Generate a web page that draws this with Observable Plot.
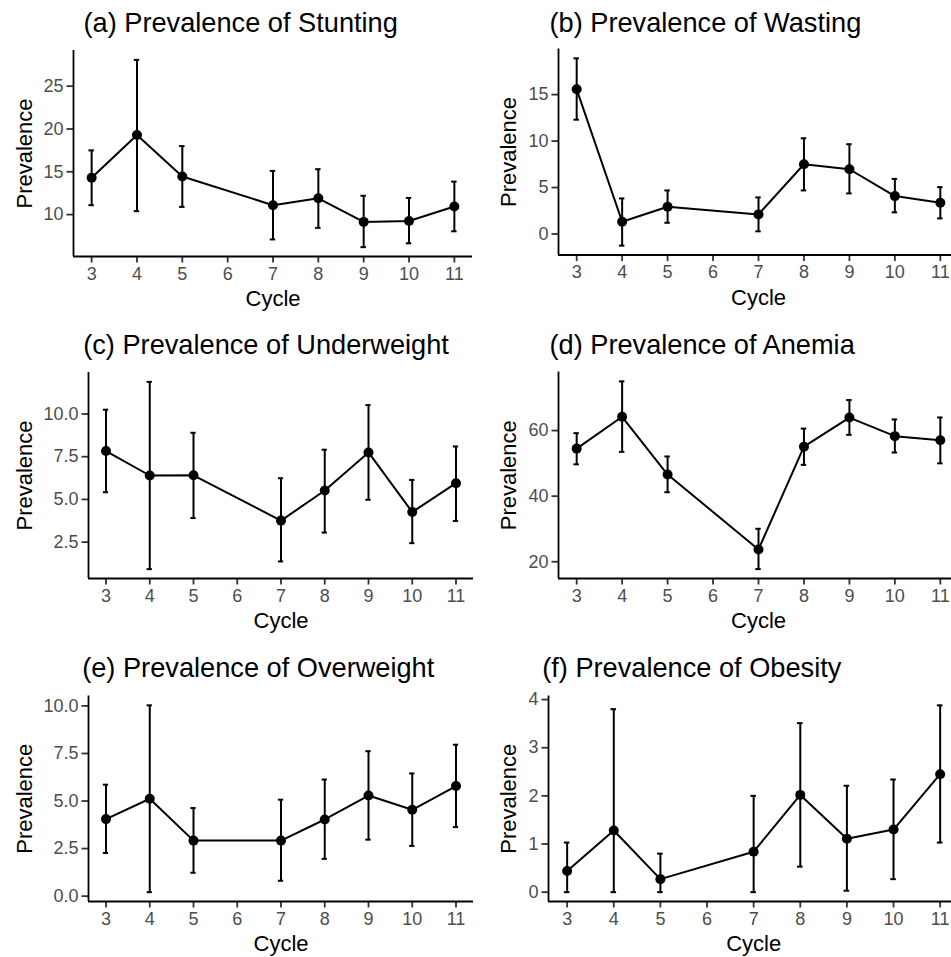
<!DOCTYPE html>
<html><head><meta charset="utf-8">
<script src="https://cdn.jsdelivr.net/npm/d3@7"></script>
<script src="https://cdn.jsdelivr.net/npm/@observablehq/plot@0.6"></script>
<style>
html,body{margin:0;padding:0;background:#fff;overflow:hidden}
#wrap{position:relative;width:951px;height:957px;overflow:hidden;background:#fff}
#wrap svg{position:absolute}
</style></head><body><div id="wrap"></div>
<script>
// ---- data ----
const cycles = [3, 4, 5, 7, 8, 9, 10, 11];
const xTicks = [3, 4, 5, 6, 7, 8, 9, 10, 11];

const stunting   = [14.3, 19.3, 14.45, 11.1, 11.9, 9.15, 9.25, 10.95];
const stuntingLo = [11.1, 10.4, 10.9, 7.1, 8.45, 6.2, 6.65, 8.05];
const stuntingHi = [17.5, 28.07, 18.0, 15.1, 15.3, 12.2, 11.95, 13.85];
const stuntingTicks = [10, 15, 20, 25];

const wasting   = [15.57, 1.32, 2.93, 2.11, 7.51, 6.97, 4.08, 3.36];
const wastingLo = [12.3, -1.25, 1.21, 0.29, 4.69, 4.37, 2.33, 1.68];
const wastingHi = [18.9, 3.83, 4.69, 3.94, 10.3, 9.66, 5.93, 5.04];
const wastingTicks = [0, 5, 10, 15];

const underweight   = [7.83, 6.4, 6.41, 3.76, 5.52, 7.75, 4.26, 5.95];
const underweightLo = [5.42, 0.92, 3.91, 1.37, 3.06, 4.98, 2.44, 3.74];
const underweightHi = [10.25, 11.88, 8.9, 6.24, 7.91, 10.52, 6.14, 8.1];
const underweightTicks = [2.5, 5.0, 7.5, 10.0];

const anemia   = [54.5, 64.2, 46.6, 23.75, 55.1, 63.96, 58.3, 57.05];
const anemiaLo = [49.7, 53.5, 41.2, 17.75, 49.55, 58.7, 53.3, 50.0];
const anemiaHi = [59.2, 75.0, 52.1, 30.05, 60.6, 69.3, 63.4, 64.0];
const anemiaTicks = [20, 40, 60];

const overweight   = [4.05, 5.12, 2.92, 2.92, 4.03, 5.29, 4.54, 5.79];
const overweightLo = [2.27, 0.21, 1.23, 0.81, 1.96, 2.97, 2.64, 3.63];
const overweightHi = [5.86, 10.03, 4.63, 5.07, 6.13, 7.62, 6.45, 7.96];
const overweightTicks = [0.0, 2.5, 5.0, 7.5, 10.0];

const obesity   = [0.44, 1.28, 0.27, 0.84, 2.02, 1.11, 1.3, 2.45];
const obesityLo = [0, 0, 0, 0, 0.53, 0.03, 0.27, 1.03];
const obesityHi = [1.03, 3.8, 0.8, 2.0, 3.51, 2.21, 2.34, 3.88];
const obesityTicks = [0, 1, 2, 3, 4];

const titles = [
  "(a) Prevalence of Stunting", "(b) Prevalence of Wasting",
  "(c) Prevalence of Underweight", "(d) Prevalence of Anemia",
  "(e) Prevalence of Overweight", "(f) Prevalence of Obesity"
];
const xLabel = "Cycle";
const yLabel = "Prevalence";

// ---- layout ----
const f1 = d3.format(".1f");
const series = [
  {v: stunting, lo: stuntingLo, hi: stuntingHi, ticks: stuntingTicks, fmt: d => d},
  {v: wasting, lo: wastingLo, hi: wastingHi, ticks: wastingTicks, fmt: d => d},
  {v: underweight, lo: underweightLo, hi: underweightHi, ticks: underweightTicks, fmt: f1},
  {v: anemia, lo: anemiaLo, hi: anemiaHi, ticks: anemiaTicks, fmt: d => d},
  {v: overweight, lo: overweightLo, hi: overweightHi, ticks: overweightTicks, fmt: f1},
  {v: obesity, lo: obesityLo, hi: obesityHi, ticks: obesityTicks, fmt: d => d}
];
const layout = [
  {left: 0,   top: 0,   width: 475, height: 310, mL: 73,   mR: 3,   mT: 50,   mB: 54,   tX: 83,   tY: 31.7, yX: 31},
  {left: 475, top: 0,   width: 490, height: 310, mL: 83,   mR: 7,   mT: 48.5, mB: 55.5, tX: 74,   tY: 31.7, yX: 40.5},
  {left: 0,   top: 310, width: 475, height: 320, mL: 88,   mR: 2,   mT: 62,   mB: 52,   tX: 82.7, tY: 43.3, yX: 31},
  {left: 475, top: 310, width: 490, height: 320, mL: 83,   mR: 7,   mT: 61.5, mB: 52,   tX: 74,   tY: 43.3, yX: 40.5},
  {left: 0,   top: 630, width: 475, height: 327, mL: 88,   mR: 2,   mT: 65.5, mB: 56,   tX: 81.7, tY: 46.5, yX: 31},
  {left: 475, top: 630, width: 490, height: 327, mL: 73,   mR: 6.7, mT: 65.5, mB: 56,   tX: 66.7, tY: 46.5, yX: 40.5}
];
const FONT = "'Liberation Sans', Arial, Helvetica, sans-serif";
const wrap = document.getElementById("wrap");

series.forEach((s, k) => {
  const L = layout[k];
  const rows = cycles.map((c, i) => ({cycle: c, value: s.v[i], lo: s.lo[i], hi: s.hi[i]}));
  const ymin = d3.min(s.lo), ymax = d3.max(s.hi), pad = (ymax - ymin) * 0.05;
  const yDomain = [ymin - pad, ymax + pad];
  const xDomain = [2.6, 11.4];
  const cap = 0.06;
  const svg = Plot.plot({
    width: L.width, height: L.height,
    marginLeft: L.mL, marginRight: L.mR, marginTop: L.mT, marginBottom: L.mB,
    x: {domain: xDomain},
    y: {domain: yDomain},
    style: {fontFamily: FONT, background: "transparent", overflow: "visible", color: "black"},
    marks: [
      Plot.ruleX(rows, {x: "cycle", y1: "lo", y2: "hi", stroke: "black", strokeWidth: 2}),
      Plot.ruleY(rows, {y: "hi", x1: d => d.cycle - cap, x2: d => d.cycle + cap, stroke: "black", strokeWidth: 2}),
      Plot.ruleY(rows, {y: "lo", x1: d => d.cycle - cap, x2: d => d.cycle + cap, stroke: "black", strokeWidth: 2}),
      Plot.line(rows, {x: "cycle", y: "value", stroke: "black", strokeWidth: 2}),
      Plot.dot(rows, {x: "cycle", y: "value", r: 5, fill: "black", stroke: "none"}),
      Plot.axisX(xTicks, {tickSize: 6.5, tickPadding: 4, fontSize: 18, fill: "#4d4d4d", stroke: "#333", strokeWidth: 1.8, label: null}),
      Plot.axisY(s.ticks, {tickSize: 6.5, tickPadding: 3.5, fontSize: 18, tickFormat: s.fmt, fill: "#4d4d4d", stroke: "#333", strokeWidth: 1.8, label: null}),
      Plot.ruleX([xDomain[0]], {stroke: "black", strokeWidth: 1.8}),
      Plot.ruleY([yDomain[0]], {stroke: "black", strokeWidth: 1.8}),
      Plot.text([titles[k]], {text: d => d, frameAnchor: "top-left", dx: L.tX - L.mL, dy: L.tY - L.mT,
        lineAnchor: "bottom", textAnchor: "start", fontSize: 27.2, fill: "black"}),
      Plot.text([yLabel], {text: d => d, frameAnchor: "left", rotate: -90, dx: L.yX - L.mL,
        lineAnchor: "bottom", textAnchor: "middle", fontSize: 22, fill: "black"}),
      Plot.text([xLabel], {text: d => d, frameAnchor: "bottom", dy: 49.5,
        lineAnchor: "bottom", textAnchor: "middle", fontSize: 22, fill: "black"})
    ]
  });
  svg.style.position = "absolute";
  svg.style.left = L.left + "px";
  svg.style.top = L.top + "px";
  svg.style.maxWidth = "none";
  wrap.appendChild(svg);
});
</script>
</body></html>
